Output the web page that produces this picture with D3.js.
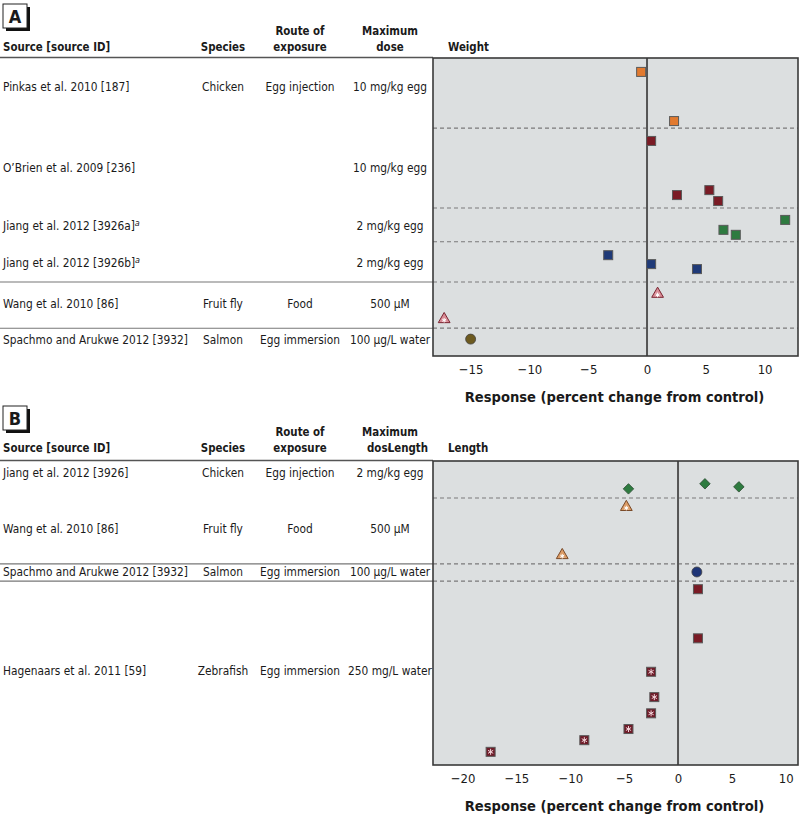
<!DOCTYPE html>
<html><head><meta charset="utf-8">
<script src="https://cdn.jsdelivr.net/npm/d3@7"></script>
<style>
body{margin:0;background:#fff;}
text{font-family:"DejaVu Sans Condensed","Liberation Sans Narrow",sans-serif;fill:#1a1a1a;}
</style></head><body>
<svg id="c" width="800" height="818"></svg>
<script>
// ---------- DATA ----------
// Panel A (Weight)
const aSources = ["Pinkas et al. 2010 [187]","O\u2019Brien et al. 2009 [236]","Jiang et al. 2012 [3926a]","Jiang et al. 2012 [3926b]","Wang et al. 2010 [86]","Spachmo and Arukwe 2012 [3932]"];
const aSup = ["","","a","a","",""];
const aSpecies = ["Chicken","","","","Fruit fly","Salmon"];
const aRoutes = ["Egg injection","","","","Food","Egg immersion"];
const aDoses = ["10 mg/kg egg","10 mg/kg egg","2 mg/kg egg","2 mg/kg egg","500 \u03bcM","100 \u03bcg/L water"];
const aRowPos = [2.9, 11.0, 16.9, 20.55, 24.75, 28.3];
const aDashed = [7.05, 15.1, 18.5, 22.55, 27.2];
const aSolid = [22.55, 27.2];
const aValues = [-0.5, 2.3, 0.35, 2.55, 5.3, 6.05, 11.75, 6.5, 7.55, -3.3, 0.35, 4.25, 0.9, -17.25, -15];
const aPos    = [1.4, 6.35, 8.35, 13.8, 13.3, 14.4, 16.3, 17.3, 17.8, 19.85, 20.75, 21.25, 23.65, 26.2, 28.3];
const aKind   = ["sqOrange","sqOrange","sqRed","sqRed","sqRed","sqRed","sqGreen","sqGreen","sqGreen","sqBlue","sqBlue","sqBlue","triPink","triPink","circOlive"];
const aTicks = [-15,-10,-5,0,5,10];

// Panel B (Length)
const bSources = ["Jiang et al. 2012 [3926]","Wang et al. 2010 [86]","Spachmo and Arukwe 2012 [3932]","Hagenaars et al. 2011 [59]"];
const bSpecies = ["Chicken","Fruit fly","Salmon","Zebrafish"];
const bRoutes = ["Egg injection","Food","Egg immersion","Egg immersion"];
const bDoses = ["2 mg/kg egg","500 \u03bcM","100 \u03bcg/L water","250 mg/L water"];
const bRowPos = [1.1, 6.7, 10.95, 20.7];
const bDashed = [3.65, 10.15, 11.85];
const bSolid = [10.15, 11.85];
const bValues = [-4.6, 2.5, 5.65, -4.8, -10.75, 1.75, 1.85, 1.85, -2.5, -2.2, -2.5, -4.6, -8.7, -17.4];
const bPos    = [2.75, 2.25, 2.55, 4.45, 9.2, 10.95, 12.65, 17.5, 20.8, 23.3, 24.9, 26.45, 27.55, 28.7];
const bKind   = ["diaGreen","diaGreen","diaGreen","triTan","triTan","circNavy","sqRed","sqRed","astRed","astRed","astRed","astRed","astRed","astRed"];
const bTicks = [-20,-15,-10,-5,0,5,10];

// ---------- DRAW ----------
const svg = d3.select("#c");
const COLORS = {sqOrange:"#e27a2f", sqRed:"#7a1b25", sqGreen:"#2e7b40", sqBlue:"#1f3a78",
  triPink:"#d98c96", triTan:"#dc9c66", circOlive:"#6d5a1f", circNavy:"#1e3577", diaGreen:"#2e7b40", astRed:"#6e1b28"};
const ROW_FS = 11.8, HEAD_FS = 11.4, TITLE_FS = 14.6, TICK_FS = 13;

function drawMarker(g, kind, x, y){
  const c = COLORS[kind];
  if(kind.startsWith("sq")){
    g.append("rect").attr("x",x-4.5).attr("y",y-4.5).attr("width",9).attr("height",9)
      .attr("fill",c).attr("stroke","#5a5a5a").attr("stroke-width",1);
  } else if(kind.startsWith("ast")){
    g.append("rect").attr("x",x-4.5).attr("y",y-4.5).attr("width",9).attr("height",9)
      .attr("fill",c).attr("stroke","#5a5a5a").attr("stroke-width",1);
    drawAst(g,x,y,3,"#f4d6dc");
  } else if(kind.startsWith("tri")){
    const sym = d3.symbol().type(d3.symbolTriangle).size(60)();
    g.append("path").attr("d",sym).attr("transform",`translate(${x},${y+1})`)
      .attr("fill",c).attr("stroke", kind==="triPink"?"#7a2430":"#7a4a28").attr("stroke-width",1);
    drawAst(g,x,y+2,2.3,"#fff");
  } else if(kind.startsWith("circ")){
    g.append("circle").attr("cx",x).attr("cy",y).attr("r",5)
      .attr("fill",c).attr("stroke","#444").attr("stroke-width",0.8);
  } else if(kind.startsWith("dia")){
    const sym = d3.symbol().type(d3.symbolDiamond2).size(70)();
    g.append("path").attr("d",sym).attr("transform",`translate(${x},${y})`)
      .attr("fill",c).attr("stroke","#2a4a30").attr("stroke-width",0.8);
  }
}
function drawAst(g,x,y,r,col){
  for(let a=0;a<3;a++){
    const t = a*Math.PI/3 + Math.PI/2;
    g.append("line").attr("x1",x-r*Math.cos(t)).attr("y1",y-r*Math.sin(t))
      .attr("x2",x+r*Math.cos(t)).attr("y2",y+r*Math.sin(t))
      .attr("stroke",col).attr("stroke-width",1);
  }
}

function panelLabel(letter, x, y){
  svg.append("rect").attr("x",x+3).attr("y",y+3).attr("width",24).attr("height",24).attr("fill","#111");
  svg.append("rect").attr("x",x).attr("y",y).attr("width",24).attr("height",24).attr("fill","#fff").attr("stroke","#222").attr("stroke-width",1);
  svg.append("text").attr("x",x+12).attr("y",y+19).attr("text-anchor","middle")
    .attr("font-size",18).attr("font-weight","bold").text(letter);
}

function panel(cfg){
  const {top,bottom,headTop,xDomain,ticks,sources,sup,species,routes,doses,rowPos,dashed,solid,values,pos,kind,title,doseOverlap} = cfg;
  const left = 433, right = 798;
  const x = d3.scaleLinear().domain(xDomain).range([left,right]);
  const y = d3.scaleLinear().domain([0,30]).range([top,bottom]);
  const g = svg.append("g");

  const hb = headTop;
  const hdr = (t,xx,yy,anchor)=>g.append("text").attr("x",xx).attr("y",yy).attr("text-anchor",anchor||"middle")
      .attr("font-size",HEAD_FS).attr("font-weight","bold").text(t);
  hdr("Source [source ID]",3,hb,"start");
  hdr("Species",223,hb);
  hdr("Route of",300,hb-16);
  hdr("exposure",300,hb);
  hdr("Maximum",390,hb-16);
  if(doseOverlap){
    hdr("dose",367,hb,"start");
    const tl = hdr(title,428,hb,"end");
    const bb = tl.node().getBBox();
    g.insert("rect",()=>tl.node()).attr("x",bb.x+1).attr("y",bb.y+1).attr("width",bb.width).attr("height",bb.height-2).attr("fill","#fff");
  } else {
    hdr("dose",390,hb);
  }
  g.append("text").attr("x",448).attr("y",hb).attr("font-size",HEAD_FS).attr("font-weight","bold").text(title);

  g.append("line").attr("x1",0).attr("x2",left).attr("y1",top-0.5).attr("y2",top-0.5).attr("stroke","#555").attr("stroke-width",1.3);
  g.append("rect").attr("x",left).attr("y",top).attr("width",right-left).attr("height",bottom-top).attr("fill","#dcdfe0");
  solid.forEach(v=>g.append("line").attr("x1",0).attr("x2",left).attr("y1",y(v)).attr("y2",y(v)).attr("stroke","#777").attr("stroke-width",1.1));
  dashed.forEach(v=>g.append("line").attr("x1",left).attr("x2",right).attr("y1",y(v)).attr("y2",y(v))
     .attr("stroke","#7a7a7a").attr("stroke-width",1.2).attr("stroke-dasharray","4,3"));
  g.append("line").attr("x1",x(0)).attr("x2",x(0)).attr("y1",top).attr("y2",bottom).attr("stroke","#555").attr("stroke-width",2);
  g.append("rect").attr("x",left).attr("y",top).attr("width",right-left).attr("height",bottom-top).attr("fill","none").attr("stroke","#3a3a3a").attr("stroke-width",1.6);

  const rowT = (t,xx,yy,anchor)=>g.append("text").attr("x",xx).attr("y",yy).attr("text-anchor",anchor||"middle").attr("font-size",ROW_FS).text(t);
  sources.forEach((s,i)=>{
    const t = rowT(s,3,y(rowPos[i])+4.5,"start");
    if(sup && sup[i]) t.append("tspan").attr("dy",-4).attr("font-size",9).attr("font-style","italic").text(sup[i]);
    if(species[i]) rowT(species[i],223,y(rowPos[i])+4.5);
    if(routes[i]) rowT(routes[i],300,y(rowPos[i])+4.5);
    if(doses[i]) rowT(doses[i],390,y(rowPos[i])+4.5);
  });

  values.forEach((v,i)=>drawMarker(g,kind[i],x(v),y(pos[i])));

  const ax = g.append("g").attr("transform",`translate(0,${bottom})`)
    .call(d3.axisBottom(x).tickValues(ticks).tickSize(0).tickPadding(9));
  ax.select(".domain").remove();
  ax.selectAll("text").attr("font-size",TICK_FS).attr("fill","#1a1a1a")
    .style("font-family",'"DejaVu Sans Condensed",sans-serif');
  g.append("text").attr("x",(left+right)/2-1).attr("y",bottom+46).attr("text-anchor","middle")
    .attr("font-size",TITLE_FS).attr("font-weight","bold").text("Response (percent change from control)");
}

panelLabel("A",3,4);
panel({top:58,bottom:356,headTop:51,xDomain:[-18.2,12.84],ticks:aTicks,sources:aSources,sup:aSup,species:aSpecies,routes:aRoutes,doses:aDoses,
  rowPos:aRowPos,dashed:aDashed,solid:aSolid,values:aValues,pos:aPos,kind:aKind,title:"Weight",doseOverlap:false});
panelLabel("B",3,406);
panel({top:461,bottom:765,headTop:452,xDomain:[-22.75,11.14],ticks:bTicks,sources:bSources,sup:null,species:bSpecies,routes:bRoutes,doses:bDoses,
  rowPos:bRowPos,dashed:bDashed,solid:bSolid,values:bValues,pos:bPos,kind:bKind,title:"Length",doseOverlap:true});
</script></body></html>
